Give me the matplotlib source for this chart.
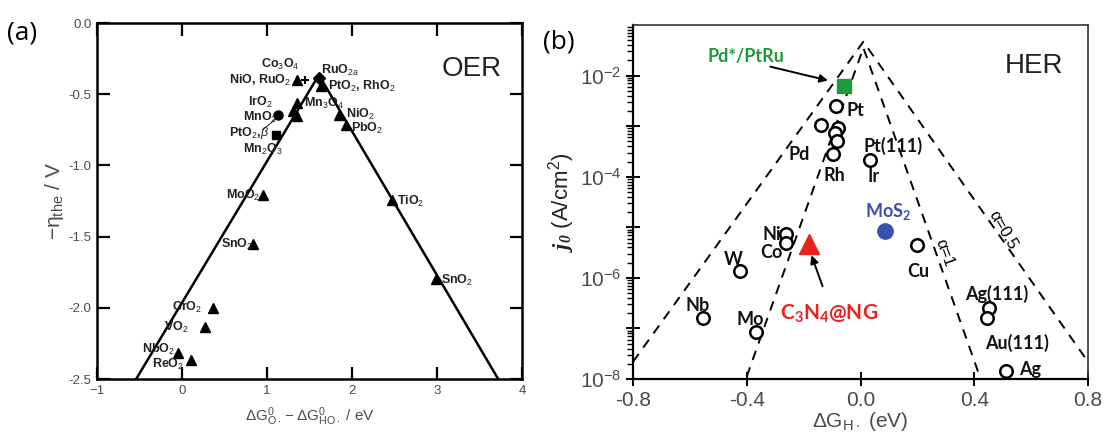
import numpy as np
import matplotlib
matplotlib.use("Agg")
import matplotlib.pyplot as plt
from matplotlib.ticker import FixedLocator, FuncFormatter, LogLocator, NullFormatter

plt.rcParams["font.family"] = ["Liberation Sans", "DejaVu Sans"]
plt.rcParams["mathtext.fontset"] = "custom"
plt.rcParams["mathtext.rm"] = "Liberation Sans"
plt.rcParams["mathtext.it"] = "Liberation Sans:italic"
plt.rcParams["mathtext.bf"] = "Lato:bold"
plt.rcParams["mathtext.sf"] = "Liberation Serif:italic:bold"

# ---------------- (a) OER data ----------------
oer_line_x = [-0.54, 1.61, 3.72]
oer_line_y = [-2.5, -0.365, -2.5]

oer_tri_x = [1.35, 1.63, 1.355, 1.31, 1.35, 1.85, 1.93, 0.956, 2.47, 0.837, 2.99, 0.359, 0.271, -0.048, 0.10]
oer_tri_y = [-0.40, -0.44, -0.56, -0.62, -0.656, -0.644, -0.714, -1.206, -1.24, -1.553, -1.797, -1.999, -2.138, -2.314, -2.365]

oer_circ_x, oer_circ_y = [1.135], [-0.644]
oer_sq_x, oer_sq_y = [1.10], [-0.785]
oer_dia_x, oer_dia_y = [1.61], [-0.386]
oer_plus_x, oer_plus_y = [1.45], [-0.40]

oer_labels = [
    ("Co$_3$O$_4$", 1.155, -0.29, "center"),
    ("NiO, RuO$_2$", 1.28, -0.405, "right"),
    ("RuO$_{2a}$", 1.64, -0.33, "left"),
    ("PtO$_2$, RhO$_2$", 1.72, -0.445, "left"),
    ("IrO$_2$", 1.06, -0.56, "right"),
    ("MnO$_2$", 1.12, -0.665, "right"),
    ("Mn$_3$O$_4$", 1.43, -0.565, "left"),
    ("PtO$_2$,$\\beta$", 1.02, -0.772, "right"),
    ("Mn$_2$O$_3$", 0.72, -0.885, "left"),
    ("NiO$_2$", 1.93, -0.645, "left"),
    ("PbO$_2$", 1.99, -0.74, "left"),
    ("MoO$_2$", 0.92, -1.21, "right"),
    ("TiO$_2$", 2.53, -1.255, "left"),
    ("SnO$_2$", 0.84, -1.555, "right"),
    ("SnO$_2$", 3.05, -1.805, "left"),
    ("CrO$_2$", 0.24, -2.0, "right"),
    ("VO$_2$", 0.08, -2.14, "right"),
    ("NbO$_2$", -0.08, -2.295, "right"),
    ("ReO$_2$", 0.03, -2.40, "right"),
]

oer_xticks = [-1, 0, 1, 2, 3, 4]
oer_yticks = [0.0, -0.5, -1.0, -1.5, -2.0, -2.5]

# ---------------- (b) HER data ----------------
her_open_x = [-0.087, -0.138, -0.079, -0.091, -0.083, -0.097, 0.035, -0.263, -0.261, -0.425,
              0.20, -0.555, -0.368, 0.452, 0.446, 0.51]
her_open_logj = [-2.61, -2.97, -3.04, -3.14, -3.30, -3.56, -3.67, -5.14, -5.31, -5.87,
                 -5.35, -6.80, -7.08, -6.59, -6.80, -7.85]

pdptru_x, pdptru_logj = -0.057, -2.2
mos2_x, mos2_logj = 0.087, -5.08
c3n4_x, c3n4_logj = -0.182, -5.33

# dashed volcano lines (alpha = 0.5 outer, alpha = 1 inner)
outer_x = [-0.8, 0.01, 0.8]
outer_logj = [-7.66, -1.33, -7.66]
inner_x = [-0.40, 0.01, 0.42]
inner_logj = [-7.95, -1.45, -7.96]

her_labels = [
    ("Pt", -0.017, -2.69),
    ("Pd", -0.214, -3.56),
    ("Rh", -0.091, -3.97),
    ("Pt(111)", 0.114, -3.40),
    ("Ir", 0.046, -4.0),
    ("Ni", -0.312, -5.15),
    ("Co", -0.314, -5.50),
    ("W", -0.448, -5.64),
    ("Cu", 0.202, -5.87),
    ("Nb", -0.574, -6.54),
    ("Mo", -0.388, -6.82),
    ("Ag(111)", 0.478, -6.31),
    ("Au(111)", 0.55, -7.28),
    ("Ag", 0.596, -7.82),
]

her_xticks = [-0.8, -0.4, 0.0, 0.4, 0.8]

tick_gray = "#4a4a4a"

fig = plt.figure(figsize=(11.09, 4.42), dpi=100)

# ---------------- panel (a) ----------------
ax1 = fig.add_axes([0.0875, 0.1425, 0.3832, 0.8054])
ax1.plot(oer_line_x, oer_line_y, color="black", lw=1.8, zorder=2)
ax1.plot(oer_tri_x, oer_tri_y, "^", color="black", ms=7, zorder=3)
ax1.plot(oer_circ_x, oer_circ_y, "o", color="black", ms=6.5, zorder=3)
ax1.plot(oer_sq_x, oer_sq_y, "s", color="black", ms=6, zorder=3)
ax1.plot(oer_dia_x, oer_dia_y, "D", color="black", ms=6, zorder=3)
ax1.plot(oer_plus_x, oer_plus_y, "+", color="black", ms=6, mew=1.5, zorder=3)
ax1.plot([0.95, 1.13], [-0.75, -0.66], color="black", lw=0.6)

for txt, x, y, ha in oer_labels:
    ax1.text(x, y, txt, ha=ha, va="center", fontsize=9, fontweight="bold", color="#222222")

ax1.text(3.41, -0.32, "OER", fontsize=20, ha="center", va="center", color="#222222")

ax1.set_xlim(-1, 4)
ax1.set_ylim(-2.5, 0.0)
ax1.set_xticks(oer_xticks)
ax1.set_yticks(oer_yticks)
ax1.set_yticklabels([f"{v:.1f}" for v in oer_yticks])
ax1.tick_params(direction="in", length=9, width=1.6, top=True, right=True,
                labelsize=9.5, labelcolor=tick_gray, pad=4)
for s in ax1.spines.values():
    s.set_linewidth(1.8)
ax1.set_xlabel(r"$\mathregular{\Delta G^0_{O\bullet} - \Delta G^0_{HO\bullet}}$ / eV",
               fontsize=11, color=tick_gray, labelpad=6)
ax1.set_ylabel("$-$η$_{\\mathregular{the}}$ / V", fontsize=15, color=tick_gray, labelpad=2)

fig.text(0.006, 0.925, "(a)", fontsize=19, family="Open Sans", va="center")

# ---------------- panel (b) ----------------
ax2 = fig.add_axes([0.5708, 0.1425, 0.4103, 0.8009])
ax2.set_yscale("log")
ax2.plot(outer_x, 10.0 ** np.array(outer_logj), ls=(0, (5, 4)), color="black", lw=1.4)
ax2.plot(inner_x, 10.0 ** np.array(inner_logj), ls=(0, (5, 4)), color="black", lw=1.4)

ax2.plot(her_open_x, 10.0 ** np.array(her_open_logj), "o", mfc="white", mec="black",
         ms=9, mew=1.8, zorder=3)
ax2.plot([pdptru_x], [10.0 ** pdptru_logj], "s", color="#20993a", ms=10, zorder=4)
ax2.plot([mos2_x], [10.0 ** mos2_logj], "o", color="#3850b0", ms=11, zorder=4)
ax2.plot([c3n4_x], [10.0 ** c3n4_logj], "^", color="#ee2020", ms=15, zorder=4)

lab_font = dict(family=["Lato", "DejaVu Sans"], fontweight="bold", fontsize=13)
for txt, x, y in her_labels:
    ax2.text(x, 10.0 ** y, txt, ha="center", va="center", color="#111111", **lab_font)

ax2.text(0.097, 10.0 ** -4.69, r"MoS$_\mathbf{2}$", ha="center", va="center", color="#3a4fb5", **lab_font)
ax2.text(-0.112, 10.0 ** -6.71, r"C$_\mathbf{3}$N$_\mathbf{4}$@NG", ha="center", va="center",
         color="#ee2020", family=["Lato", "DejaVu Sans"], fontweight="bold", fontsize=15)
ax2.text(-0.403, 10.0 ** -1.62, "Pd*/PtRu", ha="center", va="center", color="#20993a", **lab_font)

ax2.annotate("", xy=(-0.105, 10.0 ** -2.11), xytext=(-0.327, 10.0 ** -1.81),
             arrowprops=dict(arrowstyle="-|>", color="black", lw=1.4, mutation_scale=12))
ax2.annotate("", xy=(-0.176, 10.0 ** -5.5), xytext=(-0.13, 10.0 ** -6.22),
             arrowprops=dict(arrowstyle="-|>", color="black", lw=1.4, mutation_scale=12))

ax2.text(0.296, 10.0 ** -5.51, "α=1", rotation=-70, ha="center", va="center", fontsize=12)
ax2.text(0.501, 10.0 ** -5.05, "α=0.5", rotation=-60, ha="center", va="center", fontsize=12)
ax2.text(0.611, 10.0 ** -1.81, "HER", fontsize=20, ha="center", va="center", color="#222222")

ax2.set_xlim(-0.8, 0.8)
ax2.set_ylim(1e-8, 1e-1)
ax2.set_xticks(her_xticks)
ax2.set_xticklabels([f"{v:.1f}" for v in her_xticks])
ax2.yaxis.set_major_locator(FixedLocator([10.0 ** e for e in range(-8, -1)]))
ax2.yaxis.set_major_formatter(FuncFormatter(
    lambda v, p: r"$\mathregular{10^{%d}}$" % round(np.log10(v)) if round(np.log10(v)) % 2 == 0 else ""))
ax2.yaxis.set_minor_locator(LogLocator(base=10, subs=np.arange(2, 10)))
ax2.yaxis.set_minor_formatter(NullFormatter())
ax2.tick_params(axis="both", which="major", direction="inout", length=10, width=1.4,
                labelsize=15, labelcolor=tick_gray)
ax2.tick_params(axis="y", which="minor", direction="out", length=4, width=1.0)
for side in ["left", "bottom"]:
    ax2.spines[side].set_linewidth(1.6)
for side in ["top", "right"]:
    ax2.spines[side].set_linewidth(1.2)
    ax2.spines[side].set_color("#333333")

ax2.set_xlabel(r"$\mathregular{\Delta G_{H\bullet}}$ (eV)", fontsize=15, color=tick_gray, labelpad=0)
ax2.set_ylabel(r"$\mathsf{j_0}$ (A/cm$^\mathregular{2}$)", fontsize=16, color="#222222", labelpad=2)

fig.text(0.49, 0.905, "(b)", fontsize=19, family="Open Sans", va="center")

fig.savefig("out.png", dpi=100)
